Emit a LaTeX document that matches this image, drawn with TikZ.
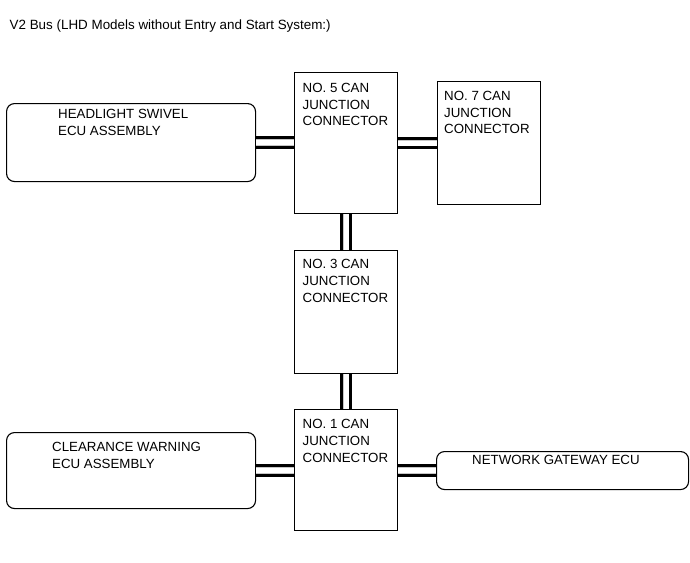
\documentclass[tikz,border=0pt]{standalone}
\usepackage{fontspec}
\setmainfont{Liberation Sans}
\begin{document}
\begin{tikzpicture}[x=1pt,y=-1pt,
  box/.style={draw, line width=1.1pt, fill=white, inner sep=0pt, anchor=north west},
  rbox/.style={box, rounded corners=8pt},
  lbl/.style={inner sep=0pt, anchor=north west, align=left,
    font=\fontsize{13.3}{16.7}\selectfont},
  bus/.style={line width=3pt, double=gray!45, double distance=6.5pt,
    postaction={draw=white, line width=5pt}}]
\useasboundingbox (0,0) rectangle (690,562);
% title
\node[lbl, font=\fontsize{13.4}{16}\selectfont] (title) at (9.5,19.5)
  {V2 Bus (LHD Models without Entry and Start System:)};
% boxes
\node[rbox, minimum width=249pt, minimum height=78pt] (hl) at (6,103) {};
\node[box, minimum width=103pt, minimum height=141pt] (n5) at (294,72) {};
\node[box, minimum width=103pt, minimum height=123pt] (n7) at (437,81) {};
\node[box, minimum width=103pt, minimum height=123pt] (n3) at (294,250) {};
\node[box, minimum width=103pt, minimum height=121pt] (n1) at (294,409) {};
\node[rbox, minimum width=249pt, minimum height=76pt] (cw) at (6,432) {};
\node[rbox, minimum width=252pt, minimum height=38pt] (gw) at (436,451) {};
% connectors
\draw[bus] (hl.east) -- (n5.west |- hl.east);
\draw[bus] (n5.east |- n7.west) -- (n7.west);
\draw[bus] (n5.south) -- (n3.north);
\draw[bus] (n3.south) -- (n1.north);
\draw[bus] (cw.east) -- (n1.west |- cw.east);
\draw[bus] (n1.east |- gw.west) -- (gw.west);
% labels
\node[lbl] (hlt) at (58,109.5) {HEADLIGHT SWIVEL\\ECU ASSEMBLY};
\node[lbl] (n5t) at (302.5,83) {NO. 5 CAN\\JUNCTION\\CONNECTOR};
\node[lbl] (n7t) at (444,91) {NO. 7 CAN\\JUNCTION\\CONNECTOR};
\node[lbl] (n3t) at (302.5,259.5) {NO. 3 CAN\\JUNCTION\\CONNECTOR};
\node[lbl] (n1t) at (302.5,419.5) {NO. 1 CAN\\JUNCTION\\CONNECTOR};
\node[lbl] (cwt) at (52,442) {CLEARANCE WARNING\\ECU ASSEMBLY};
\node[lbl] (gwt) at (472,455) {NETWORK GATEWAY ECU};
\end{tikzpicture}
\end{document}
